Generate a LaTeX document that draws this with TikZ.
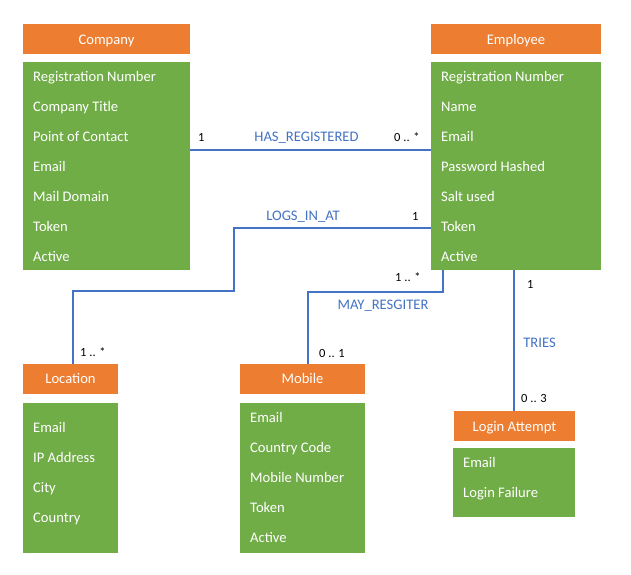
\documentclass[tikz,border=0pt]{standalone}
\usepackage{fontspec}
\setmainfont{Carlito}
\definecolor{hdr}{HTML}{ED7D31}
\definecolor{bdy}{HTML}{70AD47}
\definecolor{lnk}{HTML}{4472C4}
\begin{document}
\begin{tikzpicture}[x=1pt,y=-1pt,
  box/.style={inner sep=0pt,outer sep=0pt,draw=none,anchor=north west},
  hdrbox/.style={box,fill=hdr,text=white,font=\fontsize{14.6}{17}\selectfont,text height=10pt,text depth=0pt},
  bodybox/.style={box,fill=bdy},
  attr/.style={anchor=base west,inner sep=0pt,text=white,font=\fontsize{14.6}{17}\selectfont},
  link/.style={draw=lnk,line width=2pt},
  rel/.style={anchor=base,inner sep=0pt,text=lnk,font=\fontsize{14.6}{17}\selectfont},
  card/.style={anchor=base west,inner sep=0pt,text=black,font=\fontsize{12.5}{14}\selectfont}]
\useasboundingbox (0,0) rectangle (631,574);

% Company
\node[hdrbox,minimum width=167pt,minimum height=30pt] (ch) at (23,24) {Company};
\node[bodybox,minimum width=167pt,minimum height=208pt] (cb) at (23,62) {};
\foreach \t [count=\i from 0] in {Registration Number,Company Title,Point of Contact,Email,Mail Domain,Token,Active}
  \node[attr] (ca\i) at (33,81.5+30*\i) {\t};

% Employee
\node[hdrbox,minimum width=170pt,minimum height=30pt] (eh) at (431,24) {Employee};
\node[bodybox,minimum width=170pt,minimum height=208pt] (eb) at (431,62) {};
\foreach \t [count=\i from 0] in {Registration Number,Name,Email,Password Hashed,Salt used,Token,Active}
  \node[attr] (ea\i) at (441,81.5+30*\i) {\t};

% Location
\node[hdrbox,minimum width=95pt,minimum height=29.5pt] (lh) at (23,364) {Location};
\node[bodybox,minimum width=95pt,minimum height=149.5pt] (lb) at (23,403) {};
\foreach \t [count=\i from 0] in {Email,IP Address,City,Country}
  \node[attr] (la\i) at (33,432.5+30*\i) {\t};

% Mobile
\node[hdrbox,minimum width=125pt,minimum height=29.5pt] (mh) at (240,364) {Mobile};
\node[bodybox,minimum width=125pt,minimum height=149.5pt] (mb) at (240,403) {};
\foreach \t [count=\i from 0] in {Email,Country Code,Mobile Number,Token,Active}
  \node[attr] (ma\i) at (250,422.5+30*\i) {\t};

% Login Attempt
\node[hdrbox,minimum width=121pt,minimum height=30pt] (ah) at (454,411) {Login Attempt};
\node[bodybox,minimum width=122pt,minimum height=69pt] (ab) at (453,448) {};
\foreach \t [count=\i from 0] in {Email,Login Failure}
  \node[attr] (aa\i) at (463,467.5+30*\i) {\t};

% connectors
\coordinate (hr) at (0,150);
\draw[link] (cb.east |- hr) -- (eb.west |- hr);

\coordinate (lg) at (0,227.5);
\coordinate (l1) at (234,290.5);
\coordinate (lx) at (73,0);
\draw[link] (eb.west |- lg) -| (l1) -| (lx |- lh.north);

\coordinate (mx0) at (443,0);
\coordinate (mx) at (308,291.5);
\draw[link] (mx0 |- eb.south) |- (mx) -- (mx |- mh.north);

\coordinate (tx) at (514,0);
\draw[link] (tx |- eb.south) -- (tx |- ah.north);

% labels
\node[card] (c1) at (198,141.5) {1};
\node[rel] (r1) at (306.5,141.5) {HAS\_REGISTERED};
\node[card] (c2) at (394,141.5) {0 .. *};

\node[rel] (r2) at (303,220.5) {LOGS\_IN\_AT};
\node[card] (c3) at (412,220.5) {1};
\node[card] (c4) at (80,356) {1 .. *};

\node[card] (c5) at (395,281.5) {1 .. *};
\node[rel] (r3) at (383,309) {MAY\_RESGITER};
\node[card] (c6) at (319,357) {0 .. 1};

\node[card] (c7) at (527,288) {1};
\node[rel] (r4) at (539.5,347.5) {TRIES};
\node[card] (c8) at (521,402.5) {0 .. 3};
\end{tikzpicture}
\end{document}
